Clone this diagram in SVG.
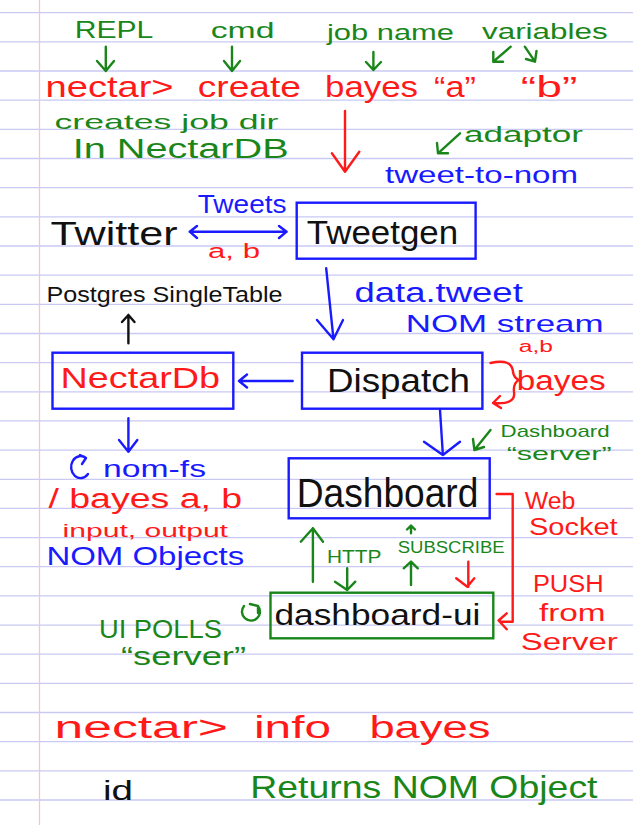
<svg xmlns="http://www.w3.org/2000/svg" width="633" height="825" viewBox="0 0 633 825">
<defs>
<style>
text{font-family:"Liberation Sans","DejaVu Sans",sans-serif;}
.r{fill:#ff1a1a}.g{fill:#1a861a}.b{fill:#1a1aff}.k{fill:#111}
.rl{stroke:#ff1a1a}.gl{stroke:#1a861a}.bl{stroke:#1a1aff}.kl{stroke:#111}
.ln{fill:none;stroke-width:2.4;stroke-linecap:round;stroke-linejoin:round}
.box{fill:none;stroke-width:2.4}
.paper{stroke:#c9c9f4;stroke-width:1.3}
</style>
</defs>
<rect width="633" height="825" fill="#fff"/>
<g id="paper">
<line class="paper" x1="0" x2="633" y1="12.7" y2="12.7"/>
<line class="paper" x1="0" x2="633" y1="41.9" y2="41.9"/>
<line class="paper" x1="0" x2="633" y1="71" y2="71"/>
<line class="paper" x1="0" x2="633" y1="100.2" y2="100.2"/>
<line class="paper" x1="0" x2="633" y1="129.3" y2="129.3"/>
<line class="paper" x1="0" x2="633" y1="158.5" y2="158.5"/>
<line class="paper" x1="0" x2="633" y1="187.7" y2="187.7"/>
<line class="paper" x1="0" x2="633" y1="216.8" y2="216.8"/>
<line class="paper" x1="0" x2="633" y1="246" y2="246"/>
<line class="paper" x1="0" x2="633" y1="275.1" y2="275.1"/>
<line class="paper" x1="0" x2="633" y1="304.3" y2="304.3"/>
<line class="paper" x1="0" x2="633" y1="333.5" y2="333.5"/>
<line class="paper" x1="0" x2="633" y1="362.6" y2="362.6"/>
<line class="paper" x1="0" x2="633" y1="391.8" y2="391.8"/>
<line class="paper" x1="0" x2="633" y1="420.9" y2="420.9"/>
<line class="paper" x1="0" x2="633" y1="450.1" y2="450.1"/>
<line class="paper" x1="0" x2="633" y1="479.3" y2="479.3"/>
<line class="paper" x1="0" x2="633" y1="508.4" y2="508.4"/>
<line class="paper" x1="0" x2="633" y1="537.6" y2="537.6"/>
<line class="paper" x1="0" x2="633" y1="566.7" y2="566.7"/>
<line class="paper" x1="0" x2="633" y1="595.9" y2="595.9"/>
<line class="paper" x1="0" x2="633" y1="625.1" y2="625.1"/>
<line class="paper" x1="0" x2="633" y1="654.2" y2="654.2"/>
<line class="paper" x1="0" x2="633" y1="683.4" y2="683.4"/>
<line class="paper" x1="0" x2="633" y1="712.5" y2="712.5"/>
<line class="paper" x1="0" x2="633" y1="741.7" y2="741.7"/>
<line class="paper" x1="0" x2="633" y1="770.9" y2="770.9"/>
<line class="paper" x1="0" x2="633" y1="800" y2="800"/>
<line x1="39.5" x2="39.5" y1="0" y2="825" stroke="#f6c6c6" stroke-width="1.3"/>
</g>

<g id="annotations">
<text class="g" x="74.7" y="38.3" font-size="24" textLength="78.7" lengthAdjust="spacingAndGlyphs">REPL</text>
<text class="g" x="210.7" y="38.3" font-size="22" textLength="63.8" lengthAdjust="spacingAndGlyphs">cmd</text>
<text class="g" x="327" y="40" font-size="22" textLength="127" lengthAdjust="spacingAndGlyphs">job name</text>
<text class="g" x="482" y="39" font-size="22" textLength="125.6" lengthAdjust="spacingAndGlyphs">variables</text>

<text class="r" x="45.6" y="96.7" font-size="29" textLength="128" lengthAdjust="spacingAndGlyphs">nectar&gt;</text>
<text class="r" x="197.8" y="96.7" font-size="29" textLength="103" lengthAdjust="spacingAndGlyphs">create</text>
<text class="r" x="325" y="96.7" font-size="29" textLength="93" lengthAdjust="spacingAndGlyphs">bayes</text>
<text class="r" x="434" y="96.7" font-size="29" textLength="42" lengthAdjust="spacingAndGlyphs">“a”</text>
<text class="r" x="520.8" y="96.7" font-size="29" textLength="56.5" lengthAdjust="spacingAndGlyphs">“b”</text>

<text class="g" x="54.5" y="129" font-size="21" textLength="224" lengthAdjust="spacingAndGlyphs">creates job dir</text>
<text class="g" x="72.7" y="158.3" font-size="27" textLength="216" lengthAdjust="spacingAndGlyphs">In NectarDB</text>
<text class="g" x="464" y="141.7" font-size="22" textLength="119" lengthAdjust="spacingAndGlyphs">adaptor</text>
<text class="b" x="385" y="183" font-size="24" textLength="193" lengthAdjust="spacingAndGlyphs">tweet-to-nom</text>

<text class="b" x="197.8" y="213.3" font-size="26" textLength="88.8" lengthAdjust="spacingAndGlyphs">Tweets</text>
<text class="r" x="208" y="258.3" font-size="20" textLength="52" lengthAdjust="spacingAndGlyphs">a, b</text>

<text class="b" x="354.5" y="301.7" font-size="27" textLength="168.3" lengthAdjust="spacingAndGlyphs">data.tweet</text>
<text class="b" x="405.7" y="331.7" font-size="24" textLength="197.9" lengthAdjust="spacingAndGlyphs">NOM stream</text>
<text class="k" x="46.4" y="301.7" font-size="22" textLength="236.2" lengthAdjust="spacingAndGlyphs">Postgres SingleTable</text>

<text class="r" x="518.8" y="352" font-size="16" textLength="34.2" lengthAdjust="spacingAndGlyphs">a,b</text>
<text class="r" x="516.8" y="390" font-size="27" textLength="88.8" lengthAdjust="spacingAndGlyphs">bayes</text>

<text class="g" x="500.6" y="436.7" font-size="17" textLength="109" lengthAdjust="spacingAndGlyphs">Dashboard</text>
<text class="g" x="506.7" y="460" font-size="19" textLength="104.9" lengthAdjust="spacingAndGlyphs">“server”</text>

<text class="b" x="103" y="476.7" font-size="24" textLength="103" lengthAdjust="spacingAndGlyphs">nom-fs</text>
<text class="r" x="48.4" y="508.3" font-size="27" textLength="193.8" lengthAdjust="spacingAndGlyphs">/ bayes a, b</text>
<text class="r" x="62.6" y="536.7" font-size="18" textLength="165.4" lengthAdjust="spacingAndGlyphs">input, output</text>
<text class="b" x="46.4" y="565" font-size="25" textLength="197.8" lengthAdjust="spacingAndGlyphs">NOM Objects</text>

<text class="r" x="524.8" y="509" font-size="23" textLength="50.5" lengthAdjust="spacingAndGlyphs">Web</text>
<text class="r" x="528.9" y="535" font-size="23" textLength="88.8" lengthAdjust="spacingAndGlyphs">Socket</text>
<text class="r" x="532.9" y="592" font-size="23" textLength="70.7" lengthAdjust="spacingAndGlyphs">PUSH</text>
<text class="r" x="539" y="621" font-size="23" textLength="66.6" lengthAdjust="spacingAndGlyphs">from</text>
<text class="r" x="520.8" y="650" font-size="23" textLength="96.9" lengthAdjust="spacingAndGlyphs">Server</text>

<text class="g" x="327" y="563.3" font-size="18" textLength="54.5" lengthAdjust="spacingAndGlyphs">HTTP</text>
<text class="g" x="397.7" y="553.3" font-size="16" textLength="106.9" lengthAdjust="spacingAndGlyphs">SUBSCRIBE</text>

<text class="g" x="98.9" y="638.3" font-size="25" textLength="123.1" lengthAdjust="spacingAndGlyphs">UI POLLS</text>
<text class="g" x="121" y="665" font-size="25" textLength="125" lengthAdjust="spacingAndGlyphs">“server”</text>

<text class="r" x="54.5" y="738.3" font-size="31" textLength="173.5" lengthAdjust="spacingAndGlyphs">nectar&gt;</text>
<text class="r" x="254" y="738.3" font-size="31" textLength="77" lengthAdjust="spacingAndGlyphs">info</text>
<text class="r" x="369.4" y="738.3" font-size="31" textLength="121.1" lengthAdjust="spacingAndGlyphs">bayes</text>
<text class="k" x="103" y="800" font-size="28" textLength="30" lengthAdjust="spacingAndGlyphs">id</text>
<text class="g" x="250.3" y="798.3" font-size="32" textLength="347.2" lengthAdjust="spacingAndGlyphs">Returns NOM Object</text>
</g>

<g id="twitter">
<text class="k" x="50.5" y="245" font-size="33" textLength="127.1" lengthAdjust="spacingAndGlyphs">Twitter</text>
</g>
<g id="tweetgen">
<rect class="box bl" x="296.7" y="202.7" width="178.9" height="56"/>
<text class="k" x="306.8" y="244" font-size="34" textLength="151.4" lengthAdjust="spacingAndGlyphs">Tweetgen</text>
</g>
<g id="nectardb">
<rect class="box bl" x="52.5" y="352.7" width="180.8" height="56"/>
<text class="r" x="60.6" y="388.3" font-size="30" textLength="159.4" lengthAdjust="spacingAndGlyphs">NectarDb</text>
</g>
<g id="dispatch">
<rect class="box bl" x="302" y="352.7" width="180.4" height="56"/>
<text class="k" x="327" y="391.7" font-size="34" textLength="143" lengthAdjust="spacingAndGlyphs">Dispatch</text>
</g>
<g id="dashboard">
<rect class="box bl" x="288.7" y="458.3" width="201" height="60"/>
<text class="k" x="296.7" y="506.7" font-size="40" textLength="181.7" lengthAdjust="spacingAndGlyphs">Dashboard</text>
</g>
<g id="dashboard-ui">
<rect class="box gl" x="270.5" y="592.7" width="222.8" height="45.6"/>
<text class="k" x="274.5" y="625" font-size="30" textLength="205.9" lengthAdjust="spacingAndGlyphs">dashboard-ui</text>
</g>

<g id="connectors">
<path class="ln gl" d="M105.8 46.7V71M97 61L105.8 71L114 61"/>
<path class="ln gl" d="M232 46.7V71M224 61L232 71L240 61"/>
<path class="ln gl" d="M373.4 52V70M366 62L373.4 70L381 62"/>
<path class="ln gl" d="M510.7 46.7L493.3 61.7M493.3 52L493.3 61.7L503 61.7"/>
<path class="ln gl" d="M524.8 46.7L535 61.7M536.5 51L535 61.7L526 59"/>
<path class="ln gl" d="M460 133.3L438 153.3M437 143L438 153.3L448 153.3"/>
<path class="ln rl" d="M345 111V171.7M331.9 153.3L345 171.7L359.3 151.7"/>
<path class="ln bl" d="M189.7 231.7H286.6M197 226L189.7 231.7L197 238M279 226L286.6 231.7L279 238"/>
<path class="ln bl" d="M326.2 268.3L333.5 339.3M317 320L333.5 339.3L343 320"/>
<path class="ln bl" d="M292.7 381H239M247 374.5L239 381L247 387.5"/>
<path class="ln kl" d="M128.4 343.3V315M122 322L128.4 315L134.5 322"/>
<path class="ln bl" d="M128.4 418.3V451.7M119 440L128.4 451.7L137.3 440"/>
<path class="ln bl" d="M86 458A9.5 11 0 1 0 88 474M80 455L86 458L82 464"/>
<path class="ln rl" d="M490.5 363Q512 358 513 372Q514 378 519 380Q513 383 514 392Q516 405 493 403M500 396L493 403L501 408"/>
<path class="ln bl" d="M440 410L442.9 455M424 441.7L442.9 455L460 441.7"/>
<path class="ln gl" d="M490.5 430L474.4 450M473 439L474.4 450L484 447"/>
<path class="ln rl" d="M496.6 494H512.7V621.7H500.6M506.7 613.3L498.6 620.5L506.7 629.3"/>
<path class="ln gl" d="M312.9 581.7V528.3M300.8 541.7L312.9 528.3L323 541.7"/>
<path class="ln gl" d="M347.2 568.3V590M335 581.7L347.2 590L355.3 581.7"/>
<path class="ln gl" d="M411 533.3V526M407 529.5L411 525.5L415 529.5"/>
<path class="ln gl" d="M411 585V561.7M403.7 568.3L411 561.7L417.8 568.3"/>
<path class="ln rl" d="M468.3 561.7V586.7M456.2 578.3L467.3 586.7L474.3 578.3"/>
<path class="ln gl" d="M244 606A9 9 0 1 0 258 606M250 604L258 606L258 613"/>
</g>
</svg>
